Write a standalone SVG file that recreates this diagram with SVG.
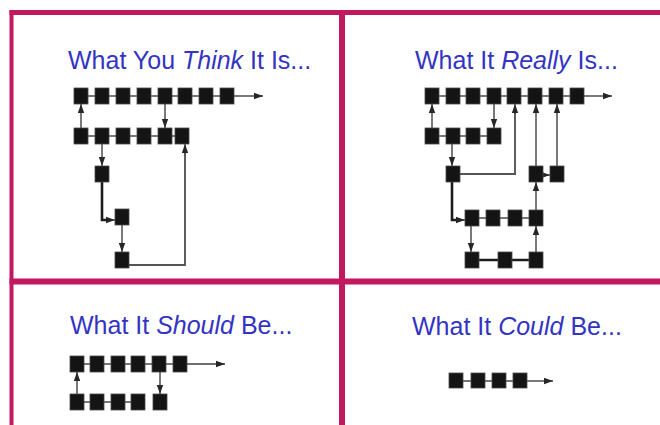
<svg xmlns="http://www.w3.org/2000/svg" width="660" height="425" viewBox="0 0 660 425">
  <style>
    .frame { stroke: #c2185f; fill: none; }
    .title { font-family: "Liberation Sans", Arial, sans-serif; font-size: 25px; fill: #3434c2; }
    .title tspan.em { font-style: italic; }
    .n { fill: #141414; stroke: #4a4a4a; stroke-width: 0.8; }
    .link { stroke: #4a4a4a; stroke-width: 1.5; fill: none; }
    .arr { stroke: #404040; stroke-width: 1.4; fill: none; marker-end: url(#head); }
    .long { stroke: #555; stroke-width: 1.9; fill: none; }
    .thick { stroke: #1c1c1c; stroke-width: 2.6; fill: none; }
  </style>
  <defs>
    <marker id="head" markerUnits="userSpaceOnUse" markerWidth="10" markerHeight="8" refX="9" refY="4" orient="auto">
      <path d="M0,0.8 L9,4 L0,7.2 Z" fill="#262626"/>
    </marker>
  </defs>

  <rect width="660" height="425" fill="#ffffff"/>

  <!-- panel frame -->
  <g id="frame">
    <line class="frame" x1="9.5" y1="12.5" x2="660" y2="12.5" stroke-width="5"/>
    <line class="frame" x1="11.5" y1="10" x2="11.5" y2="425" stroke-width="4"/>
    <line class="frame" x1="342" y1="10" x2="342" y2="425" stroke-width="6"/>
    <line class="frame" x1="9.5" y1="281.5" x2="660" y2="281.5" stroke-width="6"/>
  </g>

  <!-- titles -->
  <text class="title" x="68" y="69" font-size="25.4">What You <tspan class="em">Think</tspan> It Is...</text>
  <text class="title" x="415" y="69">What It <tspan class="em">Really</tspan> Is...</text>
  <text class="title" x="70" y="334" font-size="25.3">What It <tspan class="em">Should</tspan> Be...</text>
  <text class="title" x="412" y="335">What It <tspan class="em">Could</tspan> Be...</text>

  <!-- top-left connectors -->
  <g id="tl-connectors">
    <line class="link" x1="81" y1="96" x2="234" y2="96"/>
    <line class="arr" x1="234" y1="96" x2="263" y2="96"/>
    <line class="link" x1="81" y1="136" x2="182" y2="136"/>
    <line class="arr" x1="81" y1="128" x2="81" y2="104"/>
    <line class="arr" x1="165" y1="104" x2="165" y2="128"/>
    <line class="arr" x1="102" y1="144" x2="102" y2="166"/>
    <polyline class="thick" points="102,182 102,220 108,220"/>
    <line class="arr" x1="106" y1="220" x2="115" y2="220"/>
    <line class="arr" x1="122" y1="225" x2="122" y2="252"/>
    <polyline class="long" points="129,265 185,265 185,152"/>
    <line class="arr" x1="185" y1="154" x2="185" y2="144"/>
  </g>

  <!-- top-left nodes -->
  <g id="tl-a1"><rect class="n" x="74" y="88" width="14" height="16"/></g>
  <g id="tl-a2"><rect class="n" x="95" y="88" width="14" height="16"/></g>
  <g id="tl-a3"><rect class="n" x="116" y="88" width="14" height="16"/></g>
  <g id="tl-a4"><rect class="n" x="137" y="88" width="14" height="16"/></g>
  <g id="tl-a5"><rect class="n" x="158" y="88" width="14" height="16"/></g>
  <g id="tl-a6"><rect class="n" x="178" y="88" width="14" height="16"/></g>
  <g id="tl-a7"><rect class="n" x="199" y="88" width="14" height="16"/></g>
  <g id="tl-a8"><rect class="n" x="220" y="88" width="14" height="16"/></g>
  <g id="tl-b1"><rect class="n" x="74" y="128" width="14" height="16"/></g>
  <g id="tl-b2"><rect class="n" x="95" y="128" width="14" height="16"/></g>
  <g id="tl-b3"><rect class="n" x="116" y="128" width="14" height="16"/></g>
  <g id="tl-b4"><rect class="n" x="137" y="128" width="14" height="16"/></g>
  <g id="tl-b5"><rect class="n" x="158" y="128" width="14" height="16"/></g>
  <g id="tl-b6"><rect class="n" x="175" y="128" width="14" height="16"/></g>
  <g id="tl-c1"><rect class="n" x="95" y="166" width="14" height="16"/></g>
  <g id="tl-c2"><rect class="n" x="115" y="209" width="14" height="16"/></g>
  <g id="tl-c3"><rect class="n" x="115" y="252" width="14" height="16"/></g>

  <!-- top-right connectors -->
  <g id="tr-connectors">
    <line class="link" x1="432" y1="96" x2="583" y2="96"/>
    <line class="arr" x1="583" y1="96" x2="612" y2="96"/>
    <line class="link" x1="432" y1="136" x2="493" y2="136"/>
    <line class="arr" x1="432" y1="128" x2="432" y2="104"/>
    <line class="arr" x1="494" y1="104" x2="494" y2="128"/>
    <line class="arr" x1="452" y1="144" x2="452" y2="166"/>
    <polyline class="long" points="460,174 515,174 515,112"/>
    <line class="arr" x1="515" y1="114" x2="515" y2="104"/>
    <line class="arr" x1="536" y1="166" x2="536" y2="104"/>
    <line class="arr" x1="557" y1="166" x2="557" y2="104"/>
    <line class="arr" x1="542" y1="175" x2="550" y2="175"/>
    <polyline class="thick" points="452,182 452,220 458,220"/>
    <line class="arr" x1="456" y1="220" x2="465" y2="220"/>
    <line class="link" x1="472" y1="218" x2="536" y2="218"/>
    <line class="arr" x1="536" y1="210" x2="536" y2="182"/>
    <line class="arr" x1="471" y1="226" x2="471" y2="252"/>
    <line class="thick" x1="472" y1="260" x2="536" y2="260" stroke-width="2"/>
    <line class="arr" x1="536" y1="252" x2="536" y2="226"/>
  </g>

  <!-- top-right nodes -->
  <g id="tr-a1"><rect class="n" x="425" y="88" width="14" height="16"/></g>
  <g id="tr-a2"><rect class="n" x="446" y="88" width="14" height="16"/></g>
  <g id="tr-a3"><rect class="n" x="466" y="88" width="14" height="16"/></g>
  <g id="tr-a4"><rect class="n" x="487" y="88" width="14" height="16"/></g>
  <g id="tr-a5"><rect class="n" x="507" y="88" width="14" height="16"/></g>
  <g id="tr-a6"><rect class="n" x="528" y="88" width="14" height="16"/></g>
  <g id="tr-a7"><rect class="n" x="549" y="88" width="14" height="16"/></g>
  <g id="tr-a8"><rect class="n" x="570" y="88" width="14" height="16"/></g>
  <g id="tr-b1"><rect class="n" x="425" y="128" width="14" height="16"/></g>
  <g id="tr-b2"><rect class="n" x="446" y="128" width="14" height="16"/></g>
  <g id="tr-b3"><rect class="n" x="466" y="128" width="14" height="16"/></g>
  <g id="tr-b4"><rect class="n" x="487" y="128" width="14" height="16"/></g>
  <g id="tr-c1"><rect class="n" x="446" y="166" width="14" height="16"/></g>
  <g id="tr-c2"><rect class="n" x="529" y="166" width="14" height="16"/></g>
  <g id="tr-c3"><rect class="n" x="550" y="166" width="14" height="16"/></g>
  <g id="tr-d1"><rect class="n" x="465" y="210" width="14" height="16"/></g>
  <g id="tr-d2"><rect class="n" x="486" y="210" width="14" height="16"/></g>
  <g id="tr-d3"><rect class="n" x="508" y="210" width="14" height="16"/></g>
  <g id="tr-d4"><rect class="n" x="529" y="210" width="14" height="16"/></g>
  <g id="tr-e1"><rect class="n" x="465" y="252" width="14" height="16"/></g>
  <g id="tr-e2"><rect class="n" x="498" y="252" width="14" height="16"/></g>
  <g id="tr-e3"><rect class="n" x="529" y="252" width="14" height="16"/></g>

  <!-- bottom-left connectors -->
  <g id="bl-connectors">
    <line class="link" x1="77" y1="364" x2="187" y2="364"/>
    <line class="arr" x1="187" y1="364" x2="225" y2="364"/>
    <line class="link" x1="77" y1="402" x2="138" y2="402"/>
    <line class="arr" x1="77" y1="394" x2="77" y2="372"/>
    <line class="arr" x1="160" y1="372" x2="160" y2="394"/>
  </g>

  <!-- bottom-left nodes -->
  <g id="bl-a1"><rect class="n" x="70" y="356" width="14" height="16"/></g>
  <g id="bl-a2"><rect class="n" x="90" y="356" width="14" height="16"/></g>
  <g id="bl-a3"><rect class="n" x="111" y="356" width="14" height="16"/></g>
  <g id="bl-a4"><rect class="n" x="131" y="356" width="14" height="16"/></g>
  <g id="bl-a5"><rect class="n" x="152" y="356" width="14" height="16"/></g>
  <g id="bl-a6"><rect class="n" x="173" y="356" width="14" height="16"/></g>
  <g id="bl-b1"><rect class="n" x="70" y="394" width="14" height="16"/></g>
  <g id="bl-b2"><rect class="n" x="90" y="394" width="14" height="16"/></g>
  <g id="bl-b3"><rect class="n" x="111" y="394" width="14" height="16"/></g>
  <g id="bl-b4"><rect class="n" x="131" y="394" width="14" height="16"/></g>
  <g id="bl-b5"><rect class="n" x="153" y="394" width="14" height="16"/></g>

  <!-- bottom-right connectors -->
  <g id="br-connectors">
    <line class="link" x1="456" y1="381" x2="527" y2="381"/>
    <line class="arr" x1="527" y1="381" x2="553" y2="381"/>
  </g>

  <!-- bottom-right nodes -->
  <g id="br-a1"><rect class="n" x="449" y="373" width="14" height="15"/></g>
  <g id="br-a2"><rect class="n" x="471" y="373" width="14" height="15"/></g>
  <g id="br-a3"><rect class="n" x="492" y="373" width="14" height="15"/></g>
  <g id="br-a4"><rect class="n" x="513" y="373" width="14" height="15"/></g>
</svg>
